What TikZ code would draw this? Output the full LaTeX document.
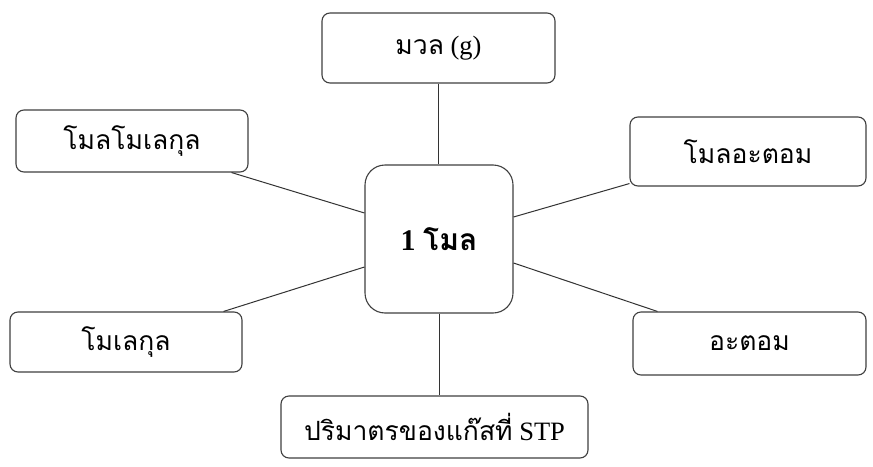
\documentclass[tikz,border=0pt]{standalone}
\usepackage{fontspec}
\setmainfont{Liberation Serif}
\newfontfamily\thai[Script=Thai]{Loma}
\tikzset{
  box/.style={draw=black!75, line width=1.1pt, rounded corners=8pt, inner sep=0pt, fill=white,
    font=\fontsize{26.5}{32}\selectfont, align=center},
  link/.style={draw=black!80, line width=1pt}
}
\begin{document}
\begin{tikzpicture}[x=1pt,y=-1pt]
\useasboundingbox[fill=white] (0,0) rectangle (873,466);
\node[box, minimum width=233pt, minimum height=70pt] (mass) at (438.5,48) {{\thai มวล} (g)};
\node[box, minimum width=148pt, minimum height=148pt, rounded corners=20pt, font=\fontsize{30}{36}\selectfont] (c) at (439,239) {\bfseries 1 {\thai โมล}};
\node[box, minimum width=232pt, minimum height=62pt] (mm) at (132,141) {{\thai โมลโมเลกุล}};
\node[box, minimum width=236pt, minimum height=69pt] (ma) at (748,151.5) {{\thai โมลอะตอม}};
\node[box, minimum width=232pt, minimum height=60pt] (mo) at (126,342) {{\thai โมเลกุล}};
\node[box, minimum width=233pt, minimum height=63pt] (at) at (749.5,343.5) {{\thai อะตอม}};
\node[box, minimum width=307pt, minimum height=62pt] (vol) at (434.5,427) {{\thai ปริมาตรของแก๊สที่} STP};
\draw[link] (mass.south) -- (mass.south |- c.north);
\draw[link] ([xshift=-17pt]mm.south east) -- ([yshift=26pt]c.west);
\draw[link] ([yshift=3pt]ma.south west) -- ([yshift=22pt]c.east);
\draw[link] ([xshift=-19pt]mo.north east) -- ([yshift=-28pt]c.west);
\draw[link] ([xshift=25pt]at.north west) -- ([yshift=-24pt]c.east);
\draw[link] (c.south) -- (c.south |- vol.north);
\end{tikzpicture}
\end{document}
